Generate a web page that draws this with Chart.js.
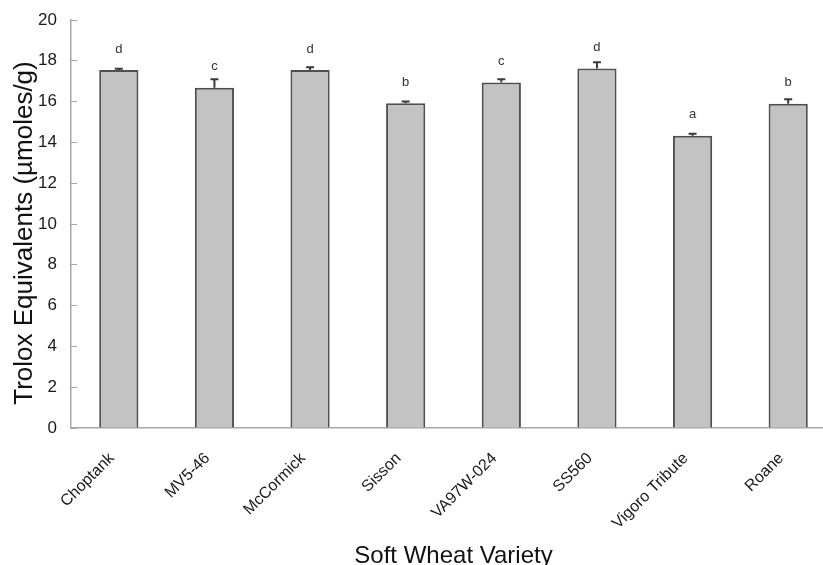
<!DOCTYPE html>
<html>
<head>
<meta charset="utf-8">
<script src="https://cdn.jsdelivr.net/npm/chart.js@4/dist/chart.umd.min.js"></script>
<style>
  html, body { margin: 0; padding: 0; background: #fff; overflow: hidden; }
  #wrap { width: 845px; height: 565px; }
</style>
</head>
<body>
<div id="wrap"><canvas id="c" width="845" height="565"></canvas></div>
<script>
// Antioxidant capacity of soft wheat varieties (mean ± SE) with significance letters
const varieties = ['Choptank', 'MV5-46', 'McCormick', 'Sisson', 'VA97W-024', 'SS560', 'Vigoro Tribute', 'Roane'];
const trolox = [17.55, 16.68, 17.55, 15.92, 16.94, 17.62, 14.33, 15.90];
const stdErr = [0.06, 0.41, 0.13, 0.08, 0.15, 0.31, 0.10, 0.21];
const groups = ['d', 'c', 'd', 'b', 'c', 'd', 'a', 'b'];
const yTicks = [0, 2, 4, 6, 8, 10, 12, 14, 16, 18, 20];
const yTitle = 'Trolox Equivalents (µmoles/g)';

const FONT = 'Liberation Sans, Arial, sans-serif';

// Draws upward error whiskers, the group letters above each bar and the y-axis title
const annotate = {
  id: 'annotate',
  afterDatasetsDraw(chart) {
    const ctx = chart.ctx;
    const y = chart.scales.y;
    const meta = chart.getDatasetMeta(0);
    ctx.save();
    meta.data.forEach((bar, i) => {
      const x = bar.x;
      const top = y.getPixelForValue(trolox[i]);
      const hi = y.getPixelForValue(trolox[i] + stdErr[i]);
      ctx.strokeStyle = '#3a3a3a';
      ctx.lineWidth = 2;
      ctx.beginPath();
      ctx.moveTo(x, top);
      ctx.lineTo(x, hi);
      ctx.moveTo(x - 4, hi);
      ctx.lineTo(x + 4, hi);
      ctx.stroke();
      ctx.fillStyle = '#333';
      ctx.font = '13px ' + FONT;
      ctx.textAlign = 'center';
      ctx.textBaseline = 'middle';
      ctx.fillText(groups[i], x, top - 21);
    });
    // y-axis title, sitting a little below the plot's vertical centre
    ctx.translate(25, (y.top + y.bottom) / 2 + 9);
    ctx.rotate(-Math.PI / 2);
    ctx.fillStyle = '#111';
    ctx.font = '26px ' + FONT;
    ctx.textAlign = 'center';
    ctx.textBaseline = 'middle';
    ctx.fillText(yTitle, 0, 0);
    ctx.restore();
  }
};

new Chart(document.getElementById('c'), {
  type: 'bar',
  data: {
    labels: varieties,
    datasets: [{
      data: trolox,
      backgroundColor: '#c3c3c3',
      borderColor: '#505050',
      borderWidth: 2,
      borderSkipped: 'bottom',
      barPercentage: 0.41,
      categoryPercentage: 1.0
    }]
  },
  options: {
    responsive: false,
    animation: false,
    layout: { padding: { top: 20, right: 9, left: 0, bottom: 0 } },
    plugins: { legend: { display: false }, tooltip: { enabled: false } },
    scales: {
      x: {
        grid: { display: false, drawTicks: false },
        border: { color: '#a8a8a8', width: 1.5 },
        ticks: {
          color: '#1a1a1a',
          font: { family: FONT, size: 16 },
          maxRotation: 45, minRotation: 45,
          padding: 21,
          labelOffset: -7
        },
        title: {
          display: true,
          text: 'Soft Wheat Variety',
          color: '#111',
          font: { family: FONT, size: 24, lineHeight: 0.75 },
          padding: { top: 0, bottom: 0 }
        },
        afterFit(s) {
          s.height = 137;
          s.paddingLeft = 0; s.paddingRight = 0; s.paddingTop = 0; s.paddingBottom = 0;
        }
      },
      y: {
        min: 0, max: 20,
        afterBuildTicks(s) { s.ticks = yTicks.map(v => ({ value: v })); },
        grid: { display: true, drawOnChartArea: false, drawTicks: true, tickLength: -6, tickColor: '#a8a8a8' },
        border: { color: '#a8a8a8', width: 1.5 },
        ticks: {
          color: '#1a1a1a',
          font: { family: FONT, size: 17 },
          padding: 20
        },
        title: { display: false },
        afterFit(s) {
          s.width = 71;
          s.paddingLeft = 0; s.paddingRight = 0; s.paddingTop = 0; s.paddingBottom = 0;
        }
      }
    }
  },
  plugins: [annotate]
});
</script>
</body>
</html>
